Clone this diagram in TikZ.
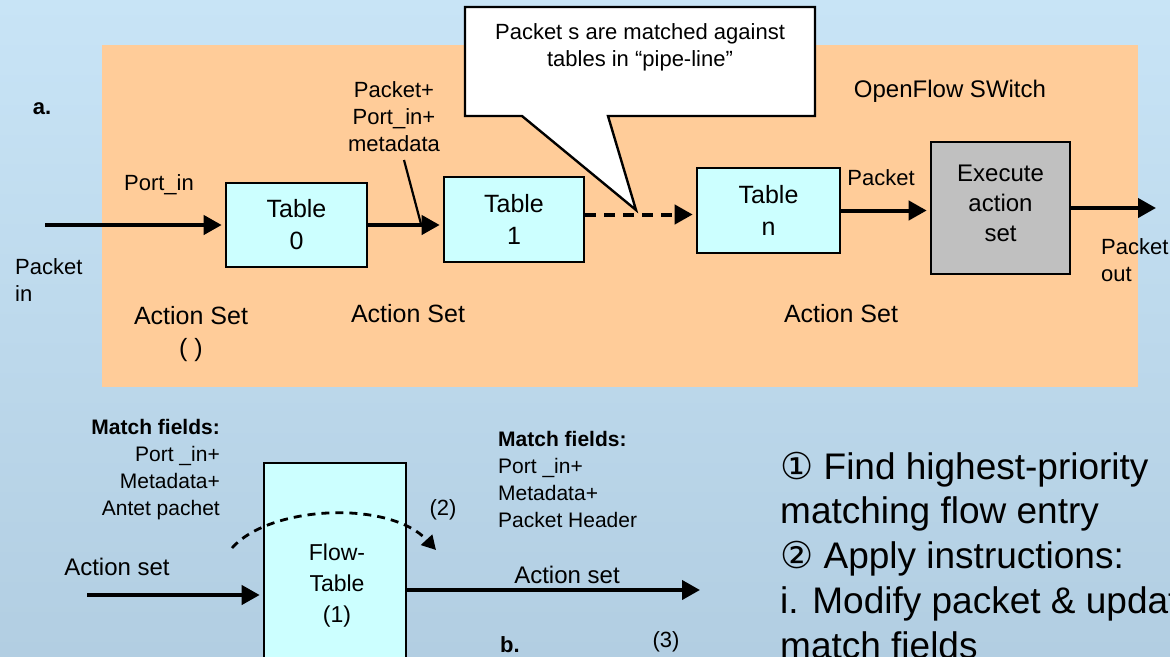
\documentclass[tikz,border=0pt]{standalone}
\usepackage{fontspec}
\setmainfont{Liberation Sans}
\newfontfamily\djvfont{DejaVu Sans}
\usetikzlibrary{arrows.meta,calc}
\definecolor{bgtop}{RGB}{200,228,246}
\definecolor{bgbot}{RGB}{178,206,226}
\definecolor{peach}{RGB}{255,204,153}
\definecolor{cyanbox}{RGB}{204,255,255}
\definecolor{graybox}{RGB}{192,192,192}
\begin{document}
\begin{tikzpicture}[x=1pt,y=-1pt,
  box/.style={draw=black, line width=2.6pt, fill=cyanbox, inner sep=0pt, align=center,
    font=\fontsize{25}{32}\selectfont},
  lbl/.style={inner sep=0pt, font=\fontsize{22}{27}\selectfont},
  albl/.style={inner sep=0pt, font=\fontsize{25}{32}\selectfont, align=center},
  small/.style={inner sep=0pt, font=\fontsize{21}{27}\selectfont},
  big/.style={inner sep=0pt, anchor=base west, font=\fontsize{37}{42}\selectfont},
  arr/.style={line width=4pt, -{Triangle[length=18pt 0 0,width=19pt 0 0]}, shorten >=3pt},
  dasharr/.style={arr, dash pattern=on 11pt off 8pt},
  arcarr/.style={line width=2.8pt, dash pattern=on 8pt off 6pt, -{Triangle[length=14pt 0 0,width=15pt 0 0]}},
  pointer/.style={line width=2.2pt}]
\useasboundingbox (0,0) rectangle (1170,656);
\clip (0,0) rectangle (1170,656);
\shade[top color=bgtop, bottom color=bgbot] (0,0) rectangle (1170,656);

% switch area
\fill[peach] (102,45) rectangle (1138,387);

% callout
\draw[line width=2.4pt, fill=white, line join=miter]
  (465,7) -- (815,7) -- (815,116) -- (608,116) -- (636,210) -- (522,116) -- (465,116) -- cycle;
\node[lbl, align=center] (callout) at (640,47) {Packet s are matched against\\tables in “pipe-line”};

% labels part a
\node[lbl, font=\bfseries\fontsize{22}{26}\selectfont] (la) at (42,109) {a.};
\node[lbl] (portin) at (159,185) {Port\_in};
\node[lbl, align=center] (pplus) at (394,117) {Packet+\\Port\_in+\\metadata};
\node[lbl, align=left, anchor=west] (pin) at (15,280) {Packet\\in};
\node[albl] (as0) at (191,334) {Action Set\\( )};
\node[albl] (as1) at (408,314) {Action Set};
\node[albl] (as2) at (841,314) {Action Set};
\node[lbl, font=\fontsize{24}{27}\selectfont] (ofs) at (950,91) {OpenFlow SWitch};
\node[lbl] (pkt) at (881,178) {Packet};
\node[lbl, align=left, anchor=west] (pout) at (1101,260) {Packet\\out};

% tables
\node[box, minimum width=141pt, minimum height=84pt] (t0) at (296.5,225) {Table\\0};
\node[box, minimum width=140pt, minimum height=85pt] (t1) at (514,219.5) {Table\\1};
\node[box, minimum width=143pt, minimum height=85pt] (tn) at (768.5,210.5) {Table\\n};
\node[box, fill=graybox, minimum width=139pt, minimum height=132pt] (ex) at (1000.5,208) {};
\node[albl, font=\fontsize{24}{30}\selectfont] (extxt) at (1000.5,203) {Execute\\action\\set};

% arrows part a
\coordinate (inpt) at (45,225);
\coordinate (outpt) at (1159,208);
\coordinate (pfrom) at (404,160);
\coordinate (pto) at (421,224);
\draw[arr] (inpt) -- (t0.west);
\draw[arr] (t0.east) -- (t0.east -| t1.west);
\draw[pointer] (pfrom) -- (pto);
\draw[dasharr] ($(t1.east)+(0,-5)$) -- ($(t1.east -| tn.west)+(0,-5)$);
\draw[arr] (tn.east) -- (tn.east -| ex.west);
\draw[arr] (ex.east) -- (outpt);

% part b
\node[box, minimum width=142pt, minimum height=237pt] (ft) at (335,581.5) {};
\node[albl, font=\fontsize{23}{31}\selectfont] (fttxt) at (337,586) {Flow-\\Table\\(1)};
\node[small, align=right, anchor=east] (mfl) at (220,470)
  {\textbf{Match fields:}\\Port \_in+\\Metadata+\\Antet pachet};
\node[small, align=left, anchor=west] (mfr) at (498,479)
  {\textbf{Match fields:}\\Port \_in+\\Metadata+\\Packet Header};
\node[lbl] (n2) at (443,510) {(2)};
\node[lbl, font=\fontsize{24}{30}\selectfont] (asl) at (117,567) {Action set};
\node[lbl, font=\fontsize{24}{30}\selectfont] (asr) at (567,575) {Action set};
\node[lbl, font=\bfseries\fontsize{22}{26}\selectfont] (lb) at (510,645) {b.};
\node[lbl] (n3) at (666,642) {(3)};

\coordinate (ain) at (87,595);
\coordinate (aout) at (700,590);
\coordinate (arcs) at (232,548);
\coordinate (arce) at (436,550);
\draw[arr] (ain) -- (ain -| ft.west);
\draw[arr, shorten >=0pt] (aout -| ft.east) -- (aout);
\draw[arcarr] (arcs) .. controls (270,505) and (390,500) .. (arce);

% explanation text
\node[big] (e1) at (780,479) {{\djvfont ①} Find highest-priority};
\node[big] (e2) at (780,523.5) {matching flow entry};
\node[big] (e3) at (780,568) {{\djvfont ②} Apply instructions:};
\node[big] (e4) at (780,613) {i. Modify packet \& update};
\node[big] (e5) at (780,658) {match fields};
\end{tikzpicture}
\end{document}
